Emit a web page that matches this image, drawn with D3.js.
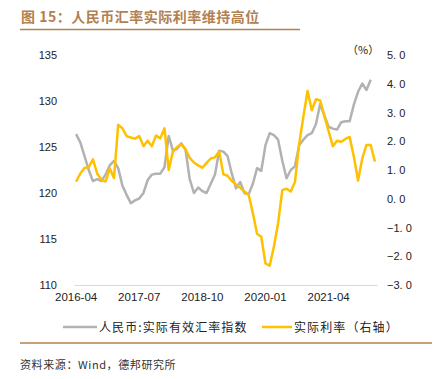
<!DOCTYPE html>
<html><head><meta charset="utf-8">
<script src="https://cdn.jsdelivr.net/npm/d3@7"></script>
<style>
body{margin:0;background:#fff;}
svg{display:block;}
</style></head>
<body><svg id="c" width="436" height="379"></svg>
<script>
// ---- data ----
const startYear = 2016, startMonth = 4, nMonths = 72;
const months = [];
for (let k = 0; k < nMonths; k++) {
  const m = startMonth - 1 + k;
  const y = startYear + Math.floor(m / 12);
  months.push(y + "-" + String(m % 12 + 1).padStart(2, "0"));
}
const tickLabels = ["2016-04", "2017-07", "2018-10", "2020-01", "2021-04"];
const reerValues = [126.4,125.5,124.0,122.5,121.3,121.5,121.3,122.0,123.0,123.5,122.7,120.8,
  119.8,118.9,119.2,119.4,120.0,121.4,122.0,122.1,122.1,122.8,126.2,124.6,
  124.8,125.4,124.7,121.5,120.0,120.6,120.2,120.0,121.0,122.0,124.6,124.5,
  124.0,122.1,120.5,121.2,120.0,119.85,121.0,122.7,122.4,125.2,126.5,126.3,
  125.8,123.5,121.6,122.5,122.9,125.2,125.8,126.3,126.5,127.5,129.7,128.4,
  127.2,127.0,126.9,127.7,127.8,127.8,129.6,131.0,131.9,131.2,132.3];
const realRateValues = [0.59,0.88,1.07,1.10,1.37,0.88,0.66,0.60,1.05,0.72,2.57,2.45,
  2.18,2.13,2.09,2.18,1.83,2.02,1.83,2.20,2.10,2.45,1.00,1.64,
  1.80,1.89,1.73,1.42,1.26,1.16,1.08,1.25,1.40,1.44,1.64,0.85,
  0.80,0.62,0.50,0.38,0.25,0.14,-0.50,-1.22,-1.32,-2.25,-2.33,-1.67,
  -0.85,0.30,0.35,0.25,0.58,1.90,2.85,3.75,3.08,3.46,3.42,2.88,
  2.35,1.83,2.02,1.98,2.08,2.15,1.46,0.63,1.40,1.87,1.87,1.29];
const leftTicks = [110,115,120,125,130,135];
const rightTicks = [-3,-2,-1,0,1,2,3,4,5];
const seriesNames = ["人民币:实际有效汇率指数", "实际利率（右轴）"];
const titleText = "图 15：人民币汇率实际利率维持高位";
const sourceText = "资料来源：Wind，德邦研究所";

// ---- layout ----
const svg = d3.select("#c");
const cjk = "'Noto Sans CJK SC','Noto Sans',sans-serif";
const lat = "'Liberation Sans',Arial,sans-serif";
const brown = "#b3804f";
const plotL = 74, plotR = 377, plotT = 55, plotB = 285;

const x = d3.scaleBand().domain(months).range([plotL, plotR]).padding(0);
const cx = d => x(d) + x.bandwidth() / 2;
const yL = d3.scaleLinear().domain([110, 135]).range([plotB, plotT]);
const yR = d3.scaleLinear().domain([-3, 5]).range([plotB, plotT]);

// title
svg.append("text").attr("x", 21).attr("y", 22).attr("font-family", cjk)
  .attr("font-size", 14).attr("font-weight", "bold").attr("fill", brown)
  .attr("letter-spacing", 0.5).text(titleText);
svg.append("line").attr("x1", 20).attr("x2", 300).attr("y1", 29.5).attr("y2", 29.5)
  .attr("stroke", brown).attr("stroke-width", 1.5);

// left axis
const gL = svg.append("g").attr("transform", `translate(${plotL},0)`)
  .call(d3.axisLeft(yL).tickValues(leftTicks).tickSize(0).tickPadding(17).tickFormat(d3.format("d")));
gL.select(".domain").remove();
gL.selectAll("text").attr("font-family", lat).attr("font-size", 11).attr("fill", "#222");

// right axis
const gR = svg.append("g").attr("transform", `translate(${plotR},0)`)
  .call(d3.axisRight(yR).tickValues(rightTicks).tickSize(0).tickPadding(10)
    .tickFormat(d => (d < 0 ? "\u2212" : "") + Math.abs(d).toFixed(1).replace(".", ". ")));
gR.select(".domain").remove();
gR.selectAll("text").attr("font-family", lat).attr("font-size", 11).attr("fill", "#222");

svg.append("text").attr("x", 347).attr("y", 54).attr("font-family", cjk)
  .attr("font-size", 11).attr("fill", "#222").text("（%）");

// x axis
const gX = svg.append("g").attr("transform", `translate(0,${plotB})`)
  .call(d3.axisBottom(x).tickValues(tickLabels).tickSize(0).tickPadding(8));
gX.select(".domain").attr("stroke", "#d9d9d9").attr("stroke-width", 1);
gX.selectAll("text").attr("font-family", lat).attr("font-size", 11.5).attr("fill", "#222");

// lines
const lineL = d3.line().x((d, i) => cx(months[i])).y(d => yL(d));
const lineR = d3.line().x((d, i) => cx(months[i])).y(d => yR(d));
svg.append("path").datum(reerValues).attr("d", lineL).attr("fill", "none")
  .attr("stroke", "#b2b2b2").attr("stroke-width", 2.5).attr("stroke-linejoin", "round");
svg.append("path").datum(realRateValues).attr("d", lineR).attr("fill", "none")
  .attr("stroke", "#ffc000").attr("stroke-width", 2.5).attr("stroke-linejoin", "round");

// legend
const leg = [{c: "#b2b2b2", x1: 63, x2: 97, tx: 99}, {c: "#ffc000", x1: 262, x2: 292, tx: 294}];
leg.forEach((l, i) => {
  svg.append("line").attr("x1", l.x1).attr("x2", l.x2).attr("y1", 327).attr("y2", 327)
    .attr("stroke", l.c).attr("stroke-width", 2.5);
  svg.append("text").attr("x", l.tx).attr("y", 331.5).attr("font-family", cjk)
    .attr("font-size", 12).attr("letter-spacing", 1.1).attr("fill", "#222").text(seriesNames[i]);
});

// bottom rule and source
svg.append("line").attr("x1", 20).attr("x2", 432).attr("y1", 343).attr("y2", 343)
  .attr("stroke", brown).attr("stroke-width", 1.5);
svg.append("text").attr("x", 20).attr("y", 369).attr("font-family", cjk)
  .attr("font-size", 11).attr("letter-spacing", 0.6).attr("fill", "#333").text(sourceText);
</script></body></html>
